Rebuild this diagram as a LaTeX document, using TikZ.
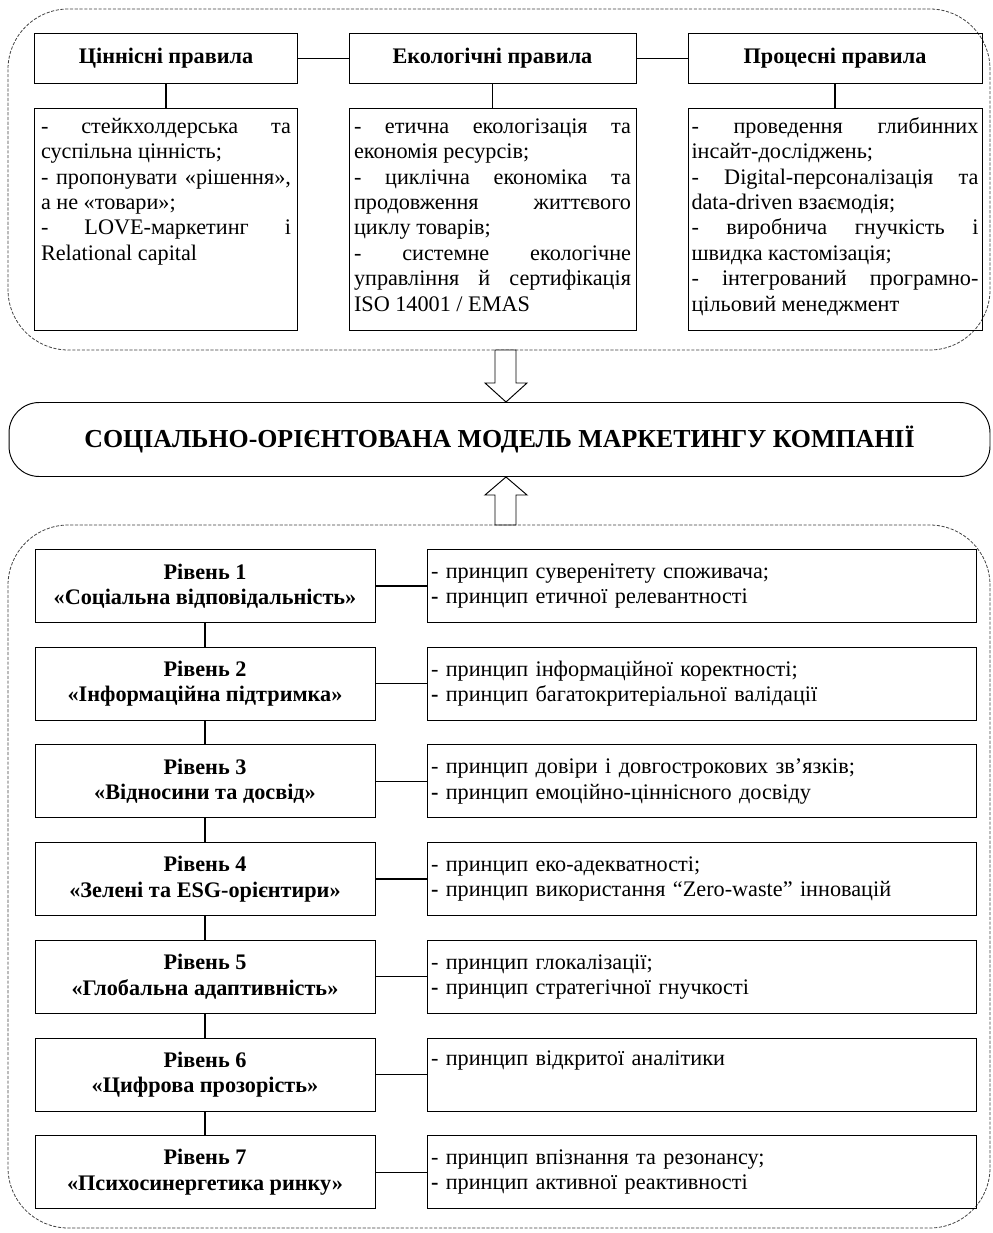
\documentclass[tikz,border=0pt]{standalone}
\usepackage{fontspec}
\setmainfont{Liberation Serif}
\usetikzlibrary{positioning}
\newcommand{\jl}[1]{\makebox[\linewidth][s]{#1}\\}

\begin{document}
\begin{tikzpicture}[x=0.63pt, y=-0.63pt,
    every node/.style={font=\fontsize{14}{16}\selectfont},
    frame/.style={draw=black!75, dash pattern=on 2pt off 1pt, line width=0.5pt, rounded corners=38pt},
    rulehead/.style={draw, line width=0.6pt, minimum height=30.9pt, inner sep=0pt, font=\fontsize{14}{16}\selectfont\bfseries},
    rulebox/.style={draw, line width=0.6pt, inner sep=0pt, anchor=north, minimum height=139.9pt},
    levelbox/.style={draw, line width=0.6pt, minimum width=214.2pt, minimum height=46pt, align=center, font=\fontsize{14}{16}\selectfont\bfseries},
    princbox/.style={draw, line width=0.6pt, minimum width=345.9pt, minimum height=46pt, inner xsep=2.5pt, text width=340.8pt, align=left},
    link/.style={line width=0.8pt},
    bigarrow/.style={draw, fill=white, line width=0.6pt}]
        \useasboundingbox (0,0) rectangle (992,1233);

        % upper block: rules
        \draw[frame] (8,9) rectangle (990,350);
        \node[rulehead, minimum width=165.1pt] at (166, 58.5)   (hval) {Ціннісні правила};
        \node[rulehead, minimum width=180.8pt] at (492.5, 58.5) (heco) {Екологічні правила};
        \node[rulehead, minimum width=185.2pt] at (835, 58.5)   (hproc) {Процесні правила};

        \node[rulebox, minimum width=165.1pt] at (166, 108) (rval) {\parbox[c][131pt][t]{157.5pt}{\strut
            \jl{- стейкхолдерська та}суспільна цінність;\\
            \jl{- пропонувати «рішення»,}а не «товари»;\\
            \jl{- LOVE-маркетинг і}Relational capital}};
        \node[rulebox, minimum width=180.8pt] at (492.5, 108) (reco) {\parbox[c][131pt][t]{174.5pt}{\strut
            \jl{- етична екологізація та}економія ресурсів;\\
            \jl{- циклічна економіка та}\jl{продовження життєвого}циклу товарів;\\
            \jl{- системне екологічне}\jl{управління й сертифікація}ISO 14001 / EMAS}};
        \node[rulebox, minimum width=185.2pt] at (835, 108) (rproc) {\parbox[c][131pt][t]{180.8pt}{\strut
            \jl{- проведення глибинних}інсайт-досліджень;\\
            \jl{- Digital-персоналізація та}data-driven взаємодія;\\
            \jl{- виробнича гнучкість і}швидка кастомізація;\\
            \jl{- інтегрований програмно-}цільовий менеджмент}};

        \draw[link] (hval) -- (heco);
        \draw[link] (heco) -- (hproc);
        \draw[link] (hval) -- (rval);
        \draw[link] (heco) -- (reco);
        \draw[link] (hproc) -- (rproc);

        % model
        \draw[bigarrow] (495,350) -- (495,383) -- (485,383) -- (506,402) -- (527,383) -- (516,383) -- (516,350) -- cycle;
        \node[draw, line width=0.6pt, rounded corners=19pt, minimum width=618pt, minimum height=46.6pt,
              font=\fontsize{16.3}{18}\selectfont\bfseries] at (499.5, 439.5) (model)
              {СОЦІАЛЬНО-ОРІЄНТОВАНА МОДЕЛЬ МАРКЕТИНГУ КОМПАНІЇ};
        \draw[bigarrow] (506,477) -- (527,495) -- (516,495) -- (516,525) -- (495,525) -- (495,495) -- (485,495) -- cycle;

        % lower block: levels
        \draw[frame] (8,525) rectangle (990,1228);
        \node[levelbox] at (205, 586)    (lev1) {Рівень 1\\«Соціальна відповідальність»};
        \node[levelbox] at (205, 683.7)  (lev2) {Рівень 2\\«Інформаційна підтримка»};
        \node[levelbox] at (205, 781.4)  (lev3) {Рівень 3\\«Відносини та досвід»};
        \node[levelbox] at (205, 879.1)  (lev4) {Рівень 4\\«Зелені та ESG-орієнтири»};
        \node[levelbox] at (205, 976.8)  (lev5) {Рівень 5\\«Глобальна адаптивність»};
        \node[levelbox] at (205, 1074.5) (lev6) {Рівень 6\\«Цифрова прозорість»};
        \node[levelbox] at (205, 1172.2) (lev7) {Рівень 7\\«Психосинергетика ринку»};

        \node[princbox] at (701.5, 586)    (pr1) {- принцип суверенітету споживача;\\\textbf{-} принцип етичної релевантності};
        \node[princbox] at (701.5, 683.7)  (pr2) {- принцип інформаційної коректності;\\\textbf{-} принцип багатокритеріальної валідації};
        \node[princbox] at (701.5, 781.4)  (pr3) {- принцип довіри і довгострокових зв’язків;\\\textbf{-} принцип емоційно-ціннісного досвіду};
        \node[princbox] at (701.5, 879.1)  (pr4) {- принцип еко-адекватності;\\\textbf{-} принцип використання “Zero-waste” інновацій};
        \node[princbox] at (701.5, 976.8)  (pr5) {- принцип глокалізації;\\\textbf{-} принцип стратегічної гнучкості};
        \node[princbox] at (701.5, 1074.5) (pr6) {- принцип відкритої аналітики\\\strut};
        \node[princbox] at (701.5, 1172.2) (pr7) {- принцип впізнання та резонансу;\\\textbf{-} принцип активної реактивності};

        \draw[link] (lev1) -- (lev2);
        \draw[link] (lev2) -- (lev3);
        \draw[link] (lev3) -- (lev4);
        \draw[link] (lev4) -- (lev5);
        \draw[link] (lev5) -- (lev6);
        \draw[link] (lev6) -- (lev7);
        \draw[link] (lev1) -- (pr1);
        \draw[link] (lev2) -- (pr2);
        \draw[link] (lev3) -- (pr3);
        \draw[link] (lev4) -- (pr4);
        \draw[link] (lev5) -- (pr5);
        \draw[link] (lev6) -- (pr6);
        \draw[link] (lev7) -- (pr7);
    \end{tikzpicture}
\end{document}
